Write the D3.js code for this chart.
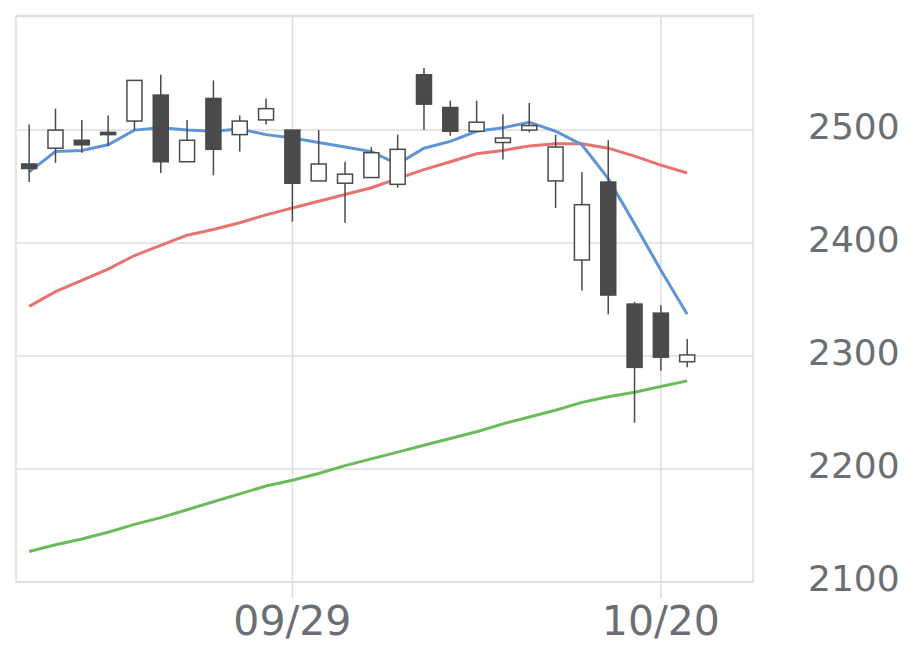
<!DOCTYPE html>
<html><head><meta charset="utf-8">
<script src="https://cdn.jsdelivr.net/npm/d3@7/dist/d3.min.js"></script>
<style>body{margin:0;background:#fff;} svg{display:block;font-family:"DejaVu Sans",sans-serif;}</style>
</head><body><svg id="c" width="920" height="669"></svg>
<script>
const dates = ["09/11","09/12","09/16","09/17","09/18","09/19","09/22","09/24","09/25","09/26","09/29","09/30","10/01","10/02","10/03","10/06","10/07","10/08","10/09","10/10","10/14","10/15","10/16","10/17","10/20","10/21"];
const open  = [2470,2484,2491,2498,2508,2531,2472,2528,2496,2509,2500,2455,2453,2458,2452,2549,2520,2499,2489,2500,2455,2385,2454,2346,2338,2295];
const high  = [2505,2519,2509,2513,2544,2549,2509,2544,2513,2528,2500,2500,2472,2485,2496,2555,2526,2526,2514,2524,2496,2463,2491,2348,2345,2315];
const low   = [2454,2471,2480,2486,2500,2462,2472,2460,2481,2505,2419,2455,2418,2458,2449,2500,2495,2499,2474,2498,2431,2358,2337,2241,2287,2290];
const close = [2466,2500,2487,2496,2544,2472,2491,2483,2508,2519,2453,2470,2461,2480,2483,2523,2499,2507,2493,2504,2485,2434,2354,2290,2299,2301];
const ma5   = [2463,2481,2482,2487,2500,2502,2500,2499,2501,2496,2493,2489,2485,2481,2470,2484,2490,2499,2502,2507,2499,2487,2457,2417,2376,2337];
const ma25  = [2344,2357,2367,2377,2389,2398,2407,2412,2418,2425,2431,2437,2443,2449,2457,2465,2472,2479,2482,2486,2488,2488,2484,2477,2469,2462];
const ma75  = [2127,2133,2138,2144,2151,2157,2164,2171,2178,2185,2190,2196,2203,2209,2215,2221,2227,2233,2240,2246,2252,2259,2264,2268,2273,2278];
const yTicks = [2100,2200,2300,2400,2500];
const xTickLabels = ["09/29","10/20"];

const svg = d3.select("#c");
const L=16, R=753, T=16, B=582;
const slots = d3.range(28).map(String);
const x = d3.scaleBand().domain(slots).range([L,R]).paddingInner(0.43).paddingOuter(0.215);
const xc = i => x(String(i)) + x.bandwidth()/2;
const y = d3.scaleLinear().domain([2100,2601]).range([B,T]);
const grid = "#dedede";

// horizontal grid
svg.append("g").selectAll("line").data(yTicks).join("line")
  .attr("x1",L).attr("x2",R).attr("y1",d=>y(d)).attr("y2",d=>y(d))
  .attr("stroke",grid).attr("stroke-width",1.5);
// vertical grid at labelled dates
const xTickIdx = xTickLabels.map(l=>dates.indexOf(l));
svg.append("g").selectAll("line").data(xTickIdx).join("line")
  .attr("x1",d=>xc(d)).attr("x2",d=>xc(d)).attr("y1",T).attr("y2",B)
  .attr("stroke",grid).attr("stroke-width",1.5);
// tick marks below axis
svg.append("g").selectAll("line").data(xTickIdx).join("line")
  .attr("x1",d=>xc(d)).attr("x2",d=>xc(d)).attr("y1",B).attr("y2",598)
  .attr("stroke","#d6dbe6").attr("stroke-width",1.5);
// frame
svg.append("rect").attr("x",L).attr("y",T).attr("width",R-L).attr("height",B-T)
  .attr("fill","none").attr("stroke",grid).attr("stroke-width",1.5);
svg.append("line").attr("x1",L).attr("x2",R).attr("y1",T).attr("y2",T)
  .attr("stroke",grid).attr("stroke-width",2.5);

// y labels
svg.append("g").selectAll("text").data(yTicks).join("text")
  .attr("x",808).attr("y",d=>y(d)+9).attr("font-size",36).attr("fill","#6b6e73")
  .text(d=>d);
// x labels
svg.append("g").selectAll("text").data(xTickIdx).join("text")
  .attr("x",d=>xc(d)).attr("y",635).attr("text-anchor","middle").attr("font-size",41).attr("fill","#6b6e73")
  .text(d=>dates[d]);

// MA lines
const line = d3.line().x((d,i)=>xc(i)).y(d=>y(d));
[[ma75,"#6cbb5a"],[ma25,"#e8726f"],[ma5,"#5f95d6"]].forEach(([s,c])=>{
  svg.append("path").datum(s).attr("d",line).attr("fill","none").attr("stroke",c).attr("stroke-width",3);
});

// candles
const dark="#4a4a4a";
const cg = svg.append("g");
dates.forEach((d,i)=>{
  cg.append("line").attr("x1",xc(i)).attr("x2",xc(i)).attr("y1",y(high[i])).attr("y2",y(low[i]))
    .attr("stroke",dark).attr("stroke-width",1.5);
  const up = close[i]>=open[i];
  const top = y(Math.max(open[i],close[i])), bot = y(Math.min(open[i],close[i]));
  cg.append("rect").attr("x",x(String(i))).attr("width",x.bandwidth())
    .attr("y",top).attr("height",Math.max(bot-top,2))
    .attr("fill",up?"#fff":dark).attr("stroke",dark).attr("stroke-width",1.5);
});
</script></body></html>
